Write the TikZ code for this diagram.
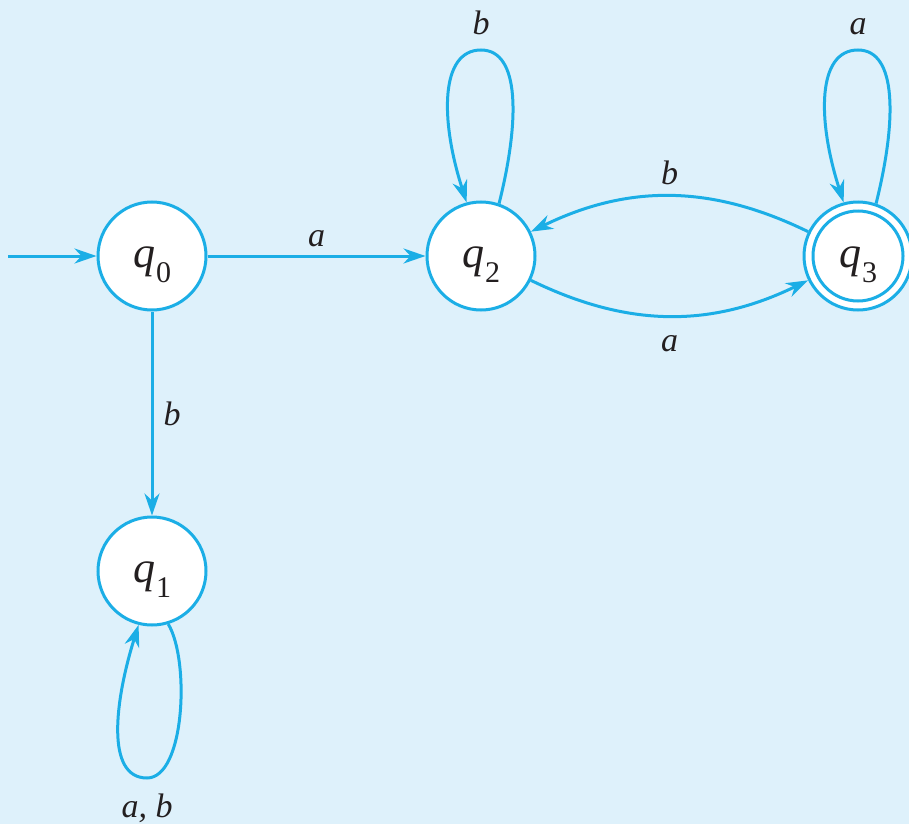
\documentclass[tikz,border=0pt]{standalone}
\usepackage{fontspec}
\setmainfont{Liberation Serif}
\usetikzlibrary{arrows.meta}
\definecolor{bgblue}{RGB}{222,241,251}
\definecolor{linecyan}{RGB}{27,174,230}
\definecolor{inkdark}{RGB}{35,31,32}
\newcommand{\stname}[1]{\textit{q}\kern1pt\raisebox{-15pt}{\fontsize{30}{30}\selectfont #1}}
\begin{document}
\begin{tikzpicture}[x=1pt,y=-1pt,
  state/.style={circle, draw=linecyan, fill=white, line width=3pt, minimum size=108pt, inner sep=0pt, text height=30pt, text depth=8pt, font=\fontsize{44}{44}\selectfont, text=inkdark},
  edge/.style={draw=linecyan, line width=3pt, -{Stealth[length=22pt,width=15pt,inset=7pt]}},
  lab/.style={font=\fontsize{34}{34}\selectfont\itshape, text=inkdark, inner sep=0pt}]
\fill[bgblue] (0,0) rectangle (909,824);
\useasboundingbox (0,0) rectangle (909,824);
\node[state] (q0) at (152,256) {\stname{0}};
\node[state] (q1) at (152,571) {\stname{1}};
\node[state] (q2) at (481,256) {\stname{2}};
\node[state] (q3) at (858,256) {\stname{3}};
\draw[linecyan, line width=3pt] (q3) circle[radius=45pt];
\coordinate (init) at (8,256);
\draw[edge] (init) -- (q0);
\draw[edge] (q0) -- node[lab, above=8pt] {a} (q2);
\draw[edge] (q0) -- node[lab, right=10pt] {b} (q1);
\draw[edge] (q2) to[bend right=26] node[lab, below=18pt] {a} (q3);
\draw[edge] (q3) to[bend right=26] node[lab, above=10pt] {b} (q2);
\draw[edge] (q2.71) .. controls (520,120) and (520,50) .. (481,50) node[lab, above=14pt] {b} .. controls (440,50) and (440,120) .. (q2.105);
\draw[edge] (q3.71) .. controls (897,120) and (897,50) .. (858,50) node[lab, above=14pt] {a} .. controls (817,50) and (817,120) .. (q3.105);
\draw[edge] (q1.-73) .. controls (190,660) and (185,778) .. (147,778) node[lab, below=14pt] {a, b} .. controls (105,778) and (115,700) .. (q1.-104);
\end{tikzpicture}
\end{document}
